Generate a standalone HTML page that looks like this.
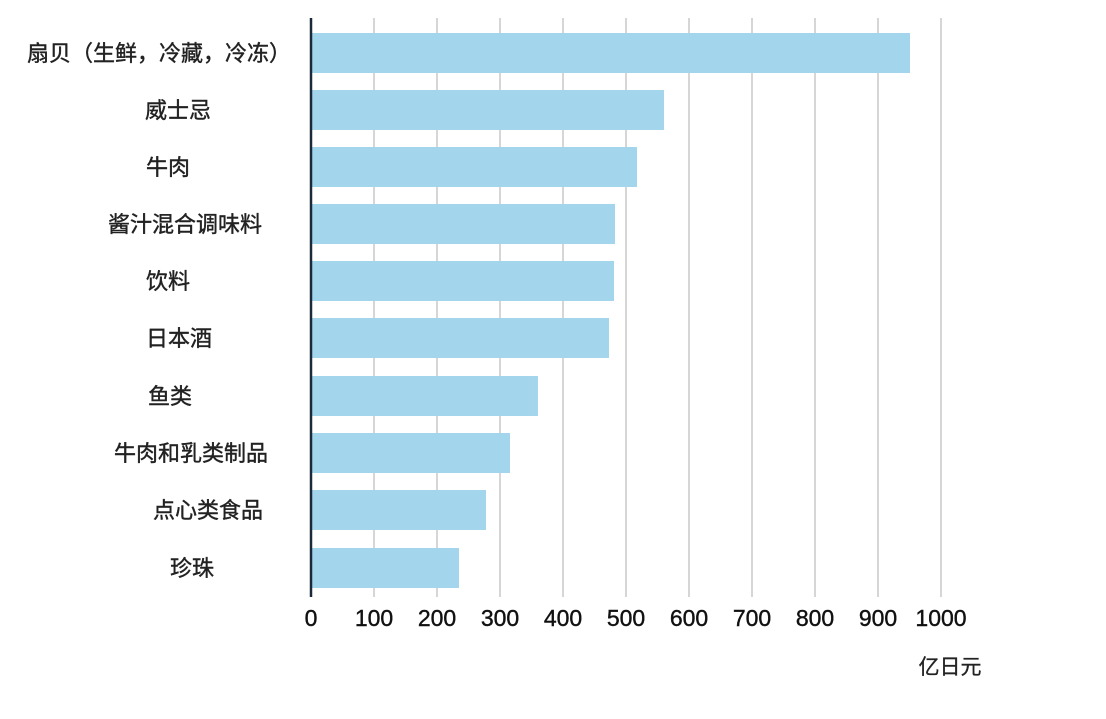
<!DOCTYPE html><html><head><meta charset="utf-8"><style>body{margin:0;background:#fff}</style></head><body>
<svg width="1106" height="714" xmlns="http://www.w3.org/2000/svg" font-family="Liberation Sans, Noto Sans CJK SC, sans-serif">
<g stroke="#c8c8c8" stroke-width="1.5">
<line x1="374" y1="18" x2="374" y2="597"/><line x1="437" y1="18" x2="437" y2="597"/><line x1="500" y1="18" x2="500" y2="597"/><line x1="563" y1="18" x2="563" y2="597"/><line x1="626" y1="18" x2="626" y2="597"/><line x1="689" y1="18" x2="689" y2="597"/><line x1="752" y1="18" x2="752" y2="597"/><line x1="815" y1="18" x2="815" y2="597"/><line x1="878" y1="18" x2="878" y2="597"/><line x1="941" y1="18" x2="941" y2="597"/>
</g>
<g fill="#a3d5ed">
<rect x="311" y="33" width="599" height="40"/><rect x="311" y="90" width="353" height="40"/><rect x="311" y="147" width="326" height="40"/><rect x="311" y="204" width="304" height="40"/><rect x="311" y="261" width="303" height="40"/><rect x="311" y="318" width="298" height="40"/><rect x="311" y="376" width="227" height="40"/><rect x="311" y="433" width="199" height="40"/><rect x="311" y="490" width="175" height="40"/><rect x="311" y="548" width="148" height="40"/>
</g>
<line x1="311" y1="18" x2="311" y2="597" stroke="#1a2a3a" stroke-width="2.5"/>
<g font-size="22" fill="#222" text-anchor="middle" stroke="#222" stroke-width="0.4">
<text x="159" y="61">扇贝（生鲜，冷藏，冷冻）</text>
<text x="178" y="118">威士忌</text><text x="168" y="175">牛肉</text><text x="185" y="232">酱汁混合调味料</text><text x="168" y="289">饮料</text><text x="179" y="346">日本酒</text><text x="170" y="404">鱼类</text><text x="191" y="461">牛肉和乳类制品</text><text x="208" y="518">点心类食品</text><text x="192" y="576">珍珠</text>
</g>
<g font-size="23" fill="#111" text-anchor="middle" stroke="#111" stroke-width="0.4">
<text x="311" y="626">0</text><text x="374" y="626">100</text><text x="437" y="626">200</text><text x="500" y="626">300</text><text x="563" y="626">400</text><text x="626" y="626">500</text><text x="689" y="626">600</text><text x="752" y="626">700</text><text x="815" y="626">800</text><text x="878" y="626">900</text><text x="941" y="626">1000</text>
</g>
<text x="950" y="674" font-size="21" fill="#222" text-anchor="middle" stroke="#222" stroke-width="0.3">亿日元</text>
</svg></body></html>
